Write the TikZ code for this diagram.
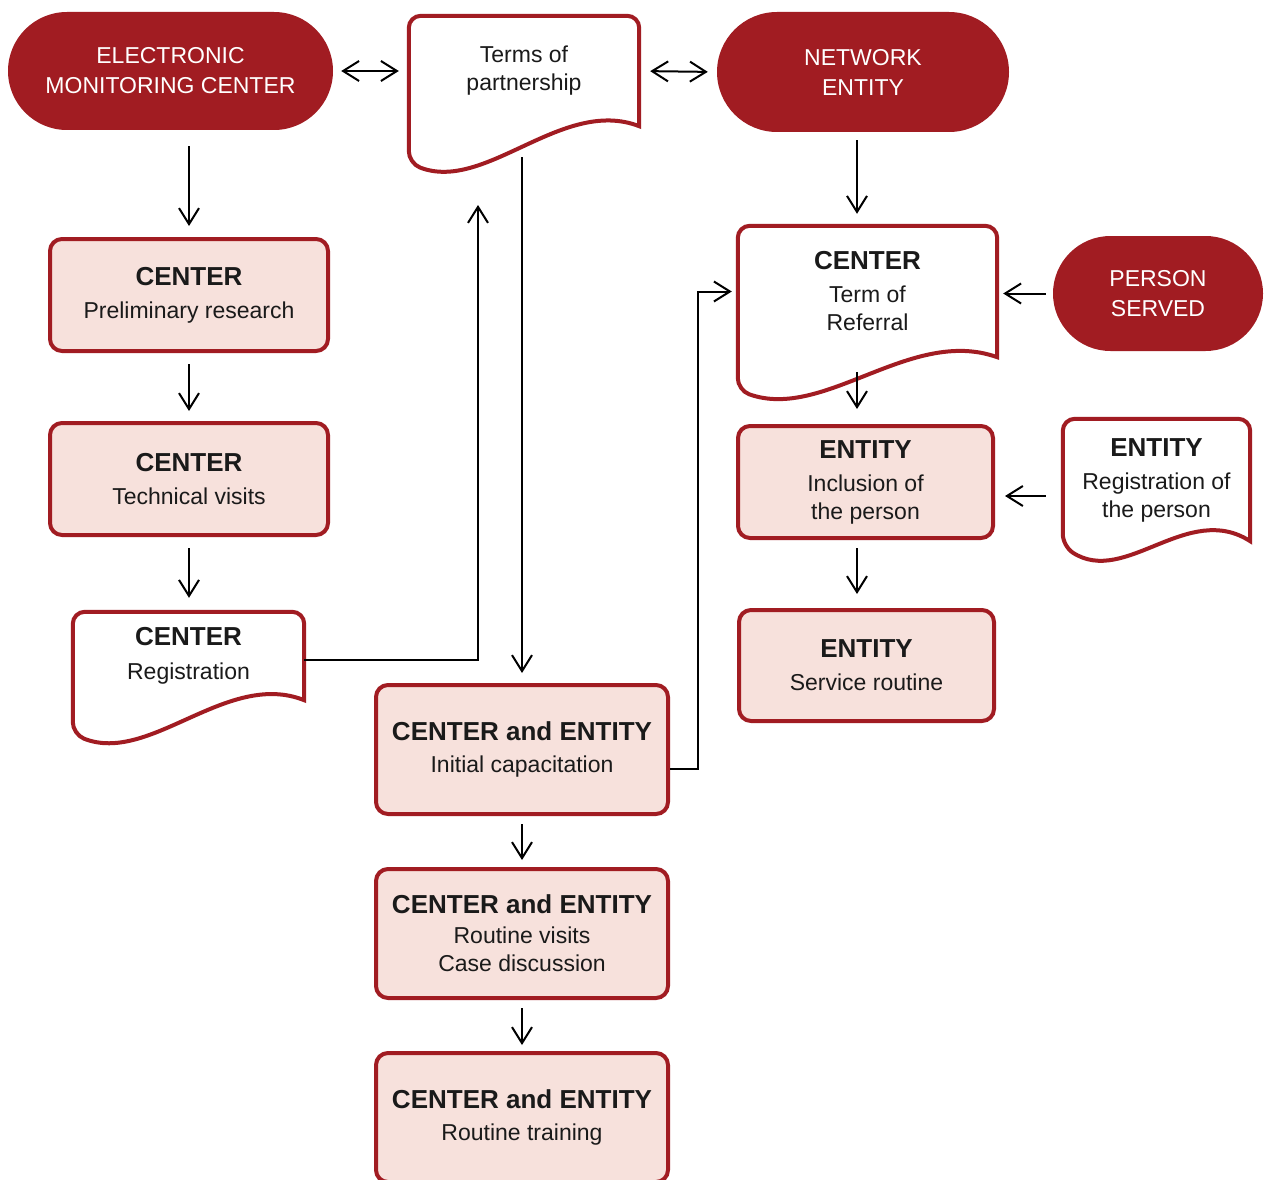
\documentclass[tikz,border=0pt]{standalone}
\usepackage{fontspec}
\setmainfont{Liberation Sans}
\usetikzlibrary{arrows.meta}
\usetikzlibrary{shapes.misc}
\usetikzlibrary{calc}
\definecolor{emred}{HTML}{A11C22}
\definecolor{empink}{HTML}{F7E1DC}
\definecolor{emtext}{HTML}{1A1A1A}

\newcommand\hd[1]{{\fontsize{26}{30}\selectfont\bfseries #1}}
% outline of a document shape: straight part is the node, wave below it
\newcommand\docline[2]{%
  \draw[docborder] (#1.south east) [rounded corners=12pt] -- (#1.north east) -- (#1.north west)
    -- ($(#1.south west)+(0,#2)$) [sharp corners]
    .. controls ($(#1.south west)!0.333!(#1.south east)+(0,{2*#2/3+42})$)
    and ($(#1.south west)!0.667!(#1.south east)+(0,{#2/3-42})$) .. (#1.south east) -- cycle;}

\tikzset{barb/.tip={Straight Barb[length=16pt,width=20pt]}}

\begin{document}
\begin{tikzpicture}[x=1pt,y=-1pt,
    txt/.style={font=\fontsize{23}{28}\selectfont, text=emtext, align=center},
    box/.style={txt, draw=emred, fill=empink, line width=4pt, rounded corners=12pt, inner sep=0pt},
    pill/.style={rounded rectangle, fill=emred, text=white, font=\fontsize{23}{30}\selectfont, align=center, inner sep=0pt},
    doc/.style={txt, inner sep=0pt},
    docborder/.style={draw=emred, line width=4pt},
    link/.style={draw=black, line width=2pt, -barb},
    dbl/.style={link, barb-barb}]
    \fill[white] (0,0) rectangle (1264,1180);
    \useasboundingbox (0,0) rectangle (1264,1180);

    % top row
    \node[pill, minimum width=325pt, minimum height=118pt] (emc) at (170.5,71) {ELECTRONIC\\MONITORING CENTER};
    \node[doc, minimum width=230pt, minimum height=110pt] (terms) at (524,71) {Terms of\\partnership};
    \node[pill, minimum width=292pt, minimum height=120pt] (network) at (863,72) {NETWORK\\ENTITY};
    \node[pill, minimum width=210pt, minimum height=115pt] (person) at (1158,293.5) {PERSON\\SERVED};

    % left column
    \node[box, minimum width=278pt, minimum height=112pt] (prelim) at (189,295) {\hd{CENTER}\\[5pt]Preliminary research};
    \node[box, minimum width=278pt, minimum height=112pt] (tech) at (189,479) {\hd{CENTER}\\[5pt]Technical visits};
    \node[doc, minimum width=231pt, minimum height=88pt] (reg) at (188.5,656) {\hd{CENTER}\\[6pt]Registration};

    % middle column
    \node[box, minimum width=292pt, minimum height=129pt] (init) at (522,749.5) {\hd{CENTER and ENTITY}\\[4pt]Initial capacitation};
    \node[box, minimum width=292pt, minimum height=129pt] (visits) at (522,933.5) {\hd{CENTER and ENTITY}\\[2pt]Routine visits\\Case discussion};
    \node[box, minimum width=292pt, minimum height=129pt] (training) at (522,1117.5) {\hd{CENTER and ENTITY}\\[4pt]Routine training};

    % right column
    \node[doc, minimum width=259pt, minimum height=131pt] (referral) at (867.5,291.5) {\hd{CENTER}\\[5pt]Term of\\Referral};
    \node[box, minimum width=255pt, minimum height=112pt] (inclusion) at (865.5,482) {\hd{ENTITY}\\[5pt]Inclusion of\\the person};
    \node[box, minimum width=255pt, minimum height=111pt] (service) at (866.5,665.5) {\hd{ENTITY}\\[5pt]Service routine};
    \node[doc, minimum width=187pt, minimum height=122pt] (entreg) at (1156.5,480) {\hd{ENTITY}\\[5pt]Registration of\\the person};

    \docline{terms}{37}
    \docline{referral}{33}
    \docline{reg}{34}
    \docline{entreg}{5}

    % connectors
    \draw[dbl, shorten <=8pt, shorten >=10pt] (emc.east) -- (terms.west);
    \draw[dbl, shorten <=11pt, shorten >=9pt] (terms.east) -- (network.west);
    \draw[link, shorten <=16pt, shorten >=11pt] (prelim.north |- emc.south) -- (prelim.north);
    \draw[link, shorten <=11pt, shorten >=10pt] (prelim) -- (tech);
    \draw[link, shorten <=11pt, shorten >=14pt] (tech.south) -- (tech.south |- reg.north);
    \draw[link, shorten <=8pt, shorten >=12pt] ([xshift=-6pt]network.south) -- ([xshift=-10.5pt]referral.north);
    \draw[link, shorten <=7pt, shorten >=6pt] (person.west) -- (person.west -| referral.east);
    \draw[link, shorten <=15pt, shorten >=15pt] ([xshift=-10.5pt]referral.south) -- ([xshift=-8.5pt]inclusion.north);
    \draw[link, shorten <=17pt, shorten >=10pt] ([yshift=-16pt]entreg.west) -- ([yshift=-16pt]entreg.west -| inclusion.east);
    \draw[link, shorten <=8pt, shorten >=14pt] ([xshift=-8.5pt]inclusion.south) -- ([xshift=-9.5pt]service.north);
    \coordinate (upend) at (478,205);
    \draw[link] ([yshift=-4pt]reg.east) -| (upend);
    \draw[link, shorten <=31pt, shorten >=10pt] ([xshift=-2pt]terms.south) -- ([xshift=-2pt]terms.south |- init.north);
    \draw[link, shorten >=6pt] ([yshift=-19.5pt]init.east) -- ++(28,0) |- (referral.west);
    \draw[link, shorten <=8pt, shorten >=7pt] (init) -- (visits);
    \draw[link, shorten <=8pt, shorten >=6pt] (visits) -- (training);
\end{tikzpicture}
\end{document}
